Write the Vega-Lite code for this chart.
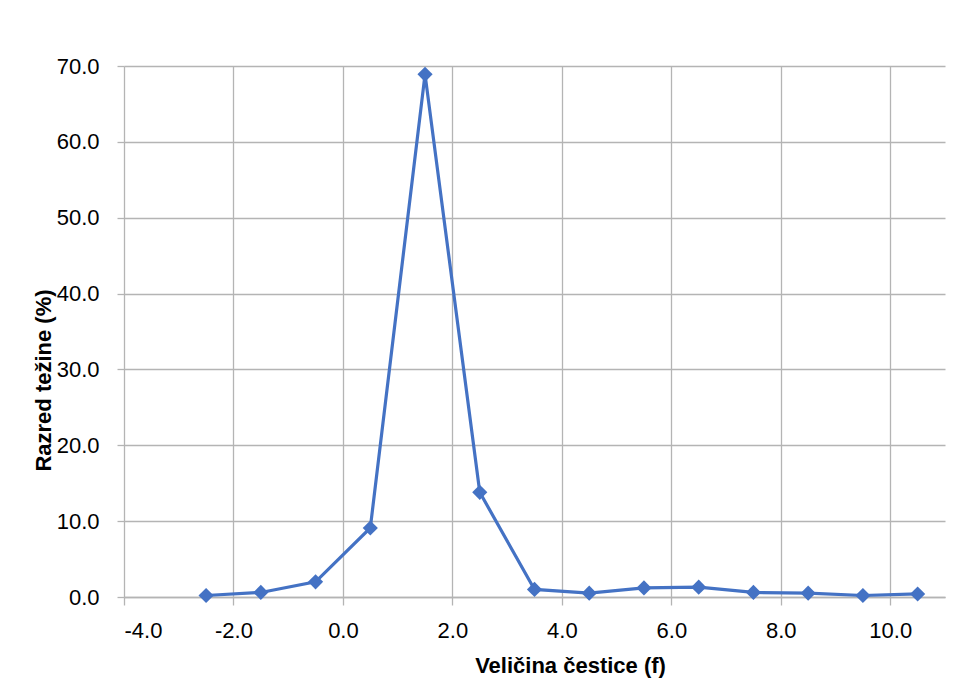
{
  "$schema": "https://vega.github.io/schema/vega-lite/v6.json",
  "width": 821,
  "height": 531,
  "autosize": {"type": "none"},
  "padding": {"left": 124, "top": 66, "right": 30, "bottom": 83},
  "background": "white",
  "config": {
    "view": {"stroke": null},
    "locale": {"number": {"decimal": ".", "thousands": ",", "grouping": [3], "currency": ["$", ""], "minus": "-"}},
    "axis": {"labelFont": "Liberation Sans", "titleFont": "Liberation Sans", "labelFontSize": 22, "titleFontSize": 22, "labelColor": "#000000", "titleColor": "#000000", "titleFontWeight": "bold", "gridColor": "#B4B4B4", "gridWidth": 1.3, "tickColor": "#B4B4B4", "tickWidth": 1.3, "domainColor": "#B4B4B4", "domainWidth": 1.3}
  },
  "data": {
    "values": [
      {"f": -2.5, "pct": 0.2},
      {"f": -1.5, "pct": 0.6},
      {"f": -0.5, "pct": 2.0},
      {"f": 0.5, "pct": 9.1},
      {"f": 1.5, "pct": 68.9},
      {"f": 2.5, "pct": 13.8},
      {"f": 3.5, "pct": 1.0},
      {"f": 4.5, "pct": 0.5},
      {"f": 5.5, "pct": 1.2},
      {"f": 6.5, "pct": 1.3},
      {"f": 7.5, "pct": 0.6},
      {"f": 8.5, "pct": 0.5},
      {"f": 9.5, "pct": 0.2},
      {"f": 10.5, "pct": 0.4}
    ]
  },
  "encoding": {
    "x": {
      "field": "f", "type": "quantitative",
      "scale": {"domain": [-4, 11], "nice": false, "zero": false},
      "axis": {"title": "Veličina čestice (f)", "values": [-4, -2, 0, 2, 4, 6, 8, 10], "format": ".1f", "tickSize": 8, "labelPadding": 15, "titleX": 446, "titleY": 75, "titleBaseline": "alphabetic", "titleAlign": "center", "titleAnchor": null}
    },
    "y": {
      "field": "pct", "type": "quantitative",
      "scale": {"domain": [0, 70], "nice": false},
      "axis": {"title": "Razred težine (%)", "values": [0, 10, 20, 30, 40, 50, 60, 70], "format": ".1f", "tickSize": 7, "labelPadding": 18, "domain": false, "titleX": -81, "titleY": 314, "titleAngle": -90, "titleBaseline": "middle", "titleAlign": "center", "titleAnchor": null}
    }
  },
  "layer": [
    {"mark": {"type": "line", "color": "#4472C4", "strokeWidth": 3.2}},
    {"mark": {"type": "point", "shape": "diamond", "filled": true, "color": "#4472C4", "opacity": 1, "size": 230}}
  ]
}
